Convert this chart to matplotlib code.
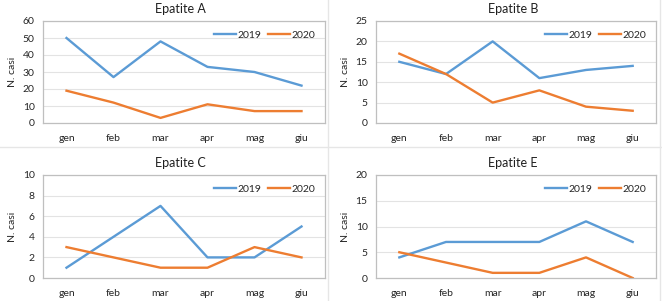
import matplotlib
matplotlib.use("Agg")
import matplotlib.pyplot as plt
from matplotlib.lines import Line2D

plt.rcParams["font.family"] = ["Lato", "DejaVu Sans"]

months = ["gen", "feb", "mar", "apr", "mag", "giu"]

titles = ["Epatite A", "Epatite B", "Epatite C", "Epatite E"]
y2019 = [
    [50, 27, 48, 33, 30, 22],
    [15, 12, 20, 11, 13, 14],
    [1, 4, 7, 2, 2, 5],
    [4, 7, 7, 7, 11, 7],
]
y2020 = [
    [19, 12, 3, 11, 7, 7],
    [17, 12, 5, 8, 4, 3],
    [3, 2, 1, 1, 3, 2],
    [5, 3, 1, 1, 4, 0],
]
ymax = [60, 25, 10, 20]
ystep = [10, 5, 2, 5]

W, H = 662, 301
fig = plt.figure(figsize=(W / 100, H / 100), dpi=100)
fig.patch.set_facecolor("white")

# plot area boxes in pixels: left, top, right, bottom
boxes = [(43, 21, 325, 123), (376, 21, 656, 123),
         (43, 175, 325, 278), (376, 175, 656, 278)]

for i in range(4):
    l, t, r, b = boxes[i]
    ax = fig.add_axes([l / W, 1 - b / H, (r - l) / W, (b - t) / H])
    x = list(range(len(months)))
    ax.plot(x, y2019[i], color="#5B9BD5", lw=1.7, label="2019")
    ax.plot(x, y2020[i], color="#ED7D31", lw=1.7, label="2020")
    ax.set_xlim(-0.5, 5.5)
    ax.set_ylim(0, ymax[i])
    ax.set_yticks(range(0, ymax[i] + 1, ystep[i]))
    ax.set_xticks(x)
    ax.set_xticklabels(months)
    ax.grid(axis="y", color="#e3e3e3", lw=0.8)
    ax.set_axisbelow(True)
    for s in ax.spines.values():
        s.set_color("#bfbfbf")
        s.set_linewidth(0.9)
    ax.tick_params(length=0, labelsize=7.5, colors="#262626")
    ax.tick_params(axis="x", pad=8)
    ax.tick_params(axis="y", pad=6)
    ax.set_ylabel("N. casi", fontsize=7.5, color="#262626", labelpad=4)
    fig.text((l + r) / 2 / W - 0.005, 1 - (t - 12) / H, titles[i],
             ha="center", va="center", fontsize=9, color="#202020")
    ax.legend(loc="upper right", bbox_to_anchor=(1.0, 1.0), ncol=2,
              frameon=False, fontsize=7.5, handlelength=2.1,
              columnspacing=0.6, handletextpad=0.2, labelcolor="#262626")

# separators between the four charts
fig.add_artist(Line2D([328 / W, 328 / W], [0, 1], color="#e6e6e6", lw=1))
fig.add_artist(Line2D([0, 1], [1 - 147 / H, 1 - 147 / H], color="#e6e6e6", lw=1))
fig.add_artist(Line2D([660 / W, 660 / W], [0, 1], color="#e6e6e6", lw=1))

fig.savefig("out.png", dpi=100)
